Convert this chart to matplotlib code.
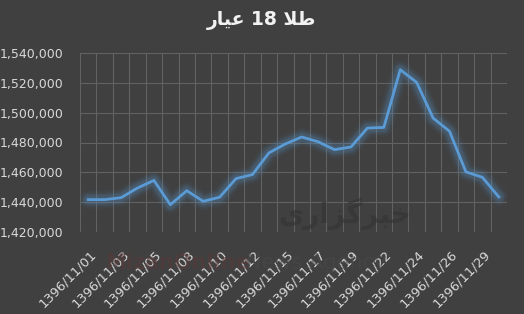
import matplotlib.pyplot as plt
import matplotlib.transforms as mtransforms
import numpy as np

# dates (Bahman 1396, Fridays missing) and 18k gold price
dates = ['1396/11/01', '1396/11/02', '1396/11/03', '1396/11/04', '1396/11/05',
         '1396/11/07', '1396/11/08', '1396/11/09', '1396/11/10', '1396/11/11',
         '1396/11/12', '1396/11/14', '1396/11/15', '1396/11/16', '1396/11/17',
         '1396/11/18', '1396/11/19', '1396/11/21', '1396/11/22', '1396/11/23',
         '1396/11/24', '1396/11/25', '1396/11/26', '1396/11/28', '1396/11/29',
         '1396/11/30']
prices = [1441700, 1441700, 1443000, 1449500, 1454600, 1438300, 1447700,
          1440600, 1443300, 1455800, 1458500, 1473000, 1479000, 1483700,
          1480500, 1475200, 1477000, 1489700, 1490100, 1528800, 1520300,
          1496400, 1487500, 1460300, 1456700, 1443500]
yticks = [1420000, 1440000, 1460000, 1480000, 1500000, 1520000, 1540000]

# title in visual order with Arabic presentation forms (no shaping in mpl)
title = '\uFEAD\uFE8E\uFEF4\uFECB 18 \uFEFC\uFEC3'
wm_text = '\uFEEF\uFEAD\uFE8D\uFEB0\uFB94\uFEAE\uFE92\uFEA7'

bg = '#404040'
txt = '#d9d9d9'
blue = '#5b9bd5'
gridc = '#626262'

fig = plt.figure(figsize=(5.24, 3.14), dpi=100, facecolor=bg)
ax = fig.add_axes([80 / 524, 1 - 232 / 314, 427 / 524, 179 / 314])
ax.set_facecolor(bg)

x = np.arange(len(dates))
ax.set_xlim(-0.5, len(dates) - 0.5)
ax.set_ylim(yticks[0], yticks[-1])

# category boundaries -> vertical grid
bounds = np.arange(-0.5, len(dates) + 0.5)
ax.set_xticks(bounds, minor=True)
ax.xaxis.grid(True, which='minor', color=gridc, lw=0.8)
ax.set_yticks(yticks)
ax.yaxis.grid(True, which='major', color=gridc, lw=0.8)
ax.set_axisbelow(True)

# glow
for w, a in [(13, 0.05), (10, 0.07), (8, 0.09), (6, 0.13)]:
    ax.plot(x, prices, color=blue, lw=w, alpha=a, solid_capstyle='round',
            solid_joinstyle='round', zorder=3)
ax.plot(x, prices, color=blue, lw=2.0, solid_joinstyle='round', zorder=4)

ax.set_yticklabels(['{:,}'.format(v) for v in yticks])
ax.set_xticks(x[::2])
ax.set_xticklabels(dates[::2], rotation=45, ha='right', va='top',
                   rotation_mode='anchor')

for s in ax.spines.values():
    s.set_visible(False)
ax.tick_params(which='both', length=0, colors=txt)
ax.tick_params(axis='y', labelsize=9, pad=12)
ax.tick_params(axis='x', labelsize=9.4, pad=11)
offset = mtransforms.ScaledTranslation(1 / 100, 0, fig.dpi_scale_trans)
for lb in ax.get_xticklabels():
    lb.set_transform(lb.get_transform() + offset)

fig.text(0.5, 1 - 20 / 314, title, ha='center', va='center', color='#f2f2f2',
         fontsize=13.5, fontweight='bold', family='DejaVu Sans')

# faint watermark
ax.text(0.62, 0.1, wm_text, transform=ax.transAxes, ha='center', va='center',
        fontsize=20, fontweight='bold', color='#333333', alpha=0.6, zorder=2)
fig.text(0.2, 1 - 263 / 314, 'MizanOnline', color='#5a3a3a', fontsize=15,
         fontweight='bold', alpha=0.5, va='center')
fig.text(0.47, 1 - 263 / 314, 'News Agency', color='#4a4a4a', fontsize=15,
         alpha=0.5, va='center')

fig.savefig('out.png', dpi=100, facecolor=bg)
